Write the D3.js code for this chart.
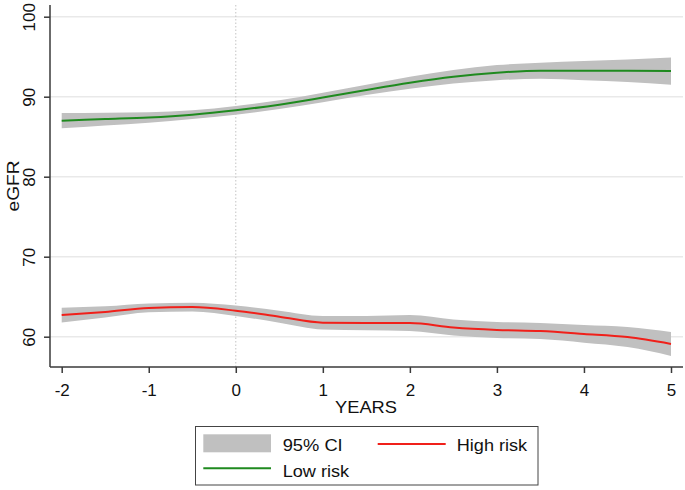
<!DOCTYPE html>
<html>
<head>
<meta charset="utf-8">
<script src="https://cdn.jsdelivr.net/npm/d3@7"></script>
<style>
  html, body { margin: 0; padding: 0; background: #fff; }
  svg { display: block; font-family: Arial, "Liberation Sans", sans-serif; }
</style>
</head>
<body>
<svg id="chart" width="685" height="490"></svg>
<script>
// ---- data ----
const years = [-2, -1.5, -1, -0.5, 0, 0.5, 1, 1.5, 2, 2.5, 3, 3.5, 4, 4.5, 5];
const lowRisk   = [87.0, 87.2, 87.4, 87.75, 88.3, 89.0, 89.9, 90.85, 91.75, 92.5, 93.0, 93.25, 93.25, 93.25, 93.2];
const lowRiskCI = [0.95, 0.8, 0.65, 0.55, 0.55, 0.55, 0.6, 0.65, 0.75, 0.85, 0.95, 1.0, 1.2, 1.4, 1.7];
const highRisk   = [62.7, 63.1, 63.6, 63.7, 63.25, 62.5, 61.75, 61.7, 61.7, 61.15, 60.85, 60.7, 60.35, 59.95, 59.1];
const highRiskCI = [0.93, 0.7, 0.55, 0.55, 0.65, 0.75, 0.85, 0.9, 1.0, 1.0, 1.0, 1.0, 1.1, 1.25, 1.5];
const xTicks = [-2, -1, 0, 1, 2, 3, 4, 5];
const yTicks = [60, 70, 80, 90, 100];
const legendItems = ["95% CI", "High risk", "Low risk"];

const svg = d3.select("#chart");
const pLeft = 50, pRight = 683, pTop = 5, pBottom = 367;

const x = d3.scaleLinear().domain([-2, 5]).range([61.7, 671]);
const y = d3.scaleLinear().domain([60, 100]).range([336.7, 16.7]);

// gridlines
svg.append("g").selectAll("line").data(yTicks).join("line")
  .attr("x1", pLeft).attr("x2", pRight)
  .attr("y1", d => y(d)).attr("y2", d => y(d))
  .attr("stroke", "#e9e9e9").attr("stroke-width", 1.5);

// reference line at 0
svg.append("line")
  .attr("x1", x(0)).attr("x2", x(0)).attr("y1", pTop).attr("y2", pBottom)
  .attr("stroke", "#c4c4c4").attr("stroke-width", 1).attr("stroke-dasharray", "1.5,2");

function series(vals, ci, color) {
  const pts = years.map((t, i) => ({ t, v: vals[i], c: ci[i] }));
  const area = d3.area().curve(d3.curveMonotoneX)
    .x(d => x(d.t)).y0(d => y(d.v - d.c)).y1(d => y(d.v + d.c));
  const line = d3.line().curve(d3.curveMonotoneX)
    .x(d => x(d.t)).y(d => y(d.v));
  svg.append("path").datum(pts).attr("d", area).attr("fill", "#c0c0c0");
  svg.append("path").datum(pts).attr("d", line)
    .attr("fill", "none").attr("stroke", color).attr("stroke-width", 2);
}
series(lowRisk, lowRiskCI, "#1f8a1f");
series(highRisk, highRiskCI, "#f0201a");

// axes
const fmt = d => String(d);
const xAxis = svg.append("g").attr("transform", `translate(0,${pBottom})`)
  .call(d3.axisBottom(x).tickValues(xTicks).tickSize(6).tickPadding(11).tickFormat(fmt));
xAxis.select(".domain").attr("d", `M${pLeft},0H${pRight}`);
const yAxis = svg.append("g").attr("transform", `translate(${pLeft},0)`)
  .call(d3.axisLeft(y).tickValues(yTicks).tickSize(6).tickFormat(fmt));
yAxis.select(".domain").attr("d", `M0,${pTop}V${pBottom}`);

[xAxis, yAxis].forEach(g => {
  g.select(".domain").attr("stroke", "#3a3a3a").attr("stroke-width", 1.5);
  g.selectAll(".tick line").attr("stroke", "#3a3a3a").attr("stroke-width", 1.5);
  g.selectAll(".tick text").attr("fill", "#111").style("font-size", "17px");
});
xAxis.selectAll(".tick text").attr("dy", "0.71em");
yAxis.selectAll(".tick text")
  .attr("x", null).attr("dy", null)
  .attr("text-anchor", "middle")
  .attr("transform", "translate(-15,0) rotate(-90)")
  .attr("y", 0);

// axis titles
svg.append("text").attr("x", 366).attr("y", 413).attr("text-anchor", "middle")
  .style("font-size", "17px").attr("fill", "#111")
  .attr("textLength", 62).attr("lengthAdjust", "spacingAndGlyphs").text("YEARS");
svg.append("text").attr("transform", "translate(18.5,186) rotate(-90)")
  .attr("text-anchor", "middle").style("font-size", "17px").attr("fill", "#111")
  .attr("textLength", 51).attr("lengthAdjust", "spacingAndGlyphs").text("eGFR");

// legend
const lg = svg.append("g");
lg.append("rect").attr("x", 195.5).attr("y", 426.5).attr("width", 342.5).attr("height", 58.5)
  .attr("fill", "#fff").attr("stroke", "#444").attr("stroke-width", 1);
lg.append("rect").attr("x", 203.3).attr("y", 434.3).attr("width", 67.7).attr("height", 18).attr("fill", "#c0c0c0");
lg.append("line").attr("x1", 377.7).attr("x2", 445.7).attr("y1", 444).attr("y2", 444)
  .attr("stroke", "#f0201a").attr("stroke-width", 2);
lg.append("line").attr("x1", 203.3).attr("x2", 271).attr("y1", 468.3).attr("y2", 468.3)
  .attr("stroke", "#1f8a1f").attr("stroke-width", 2);
const legendText = [
  { t: legendItems[0], x: 282.7, y: 451, w: 60 },
  { t: legendItems[1], x: 456.7, y: 451, w: 70.5 },
  { t: legendItems[2], x: 282.7, y: 476.7, w: 66.5 }
];
lg.selectAll("text.lt").data(legendText).join("text").attr("class", "lt")
  .attr("x", d => d.x).attr("y", d => d.y)
  .attr("textLength", d => d.w).attr("lengthAdjust", "spacingAndGlyphs")
  .style("font-size", "17px").attr("fill", "#111").text(d => d.t);
</script>
</body>
</html>
